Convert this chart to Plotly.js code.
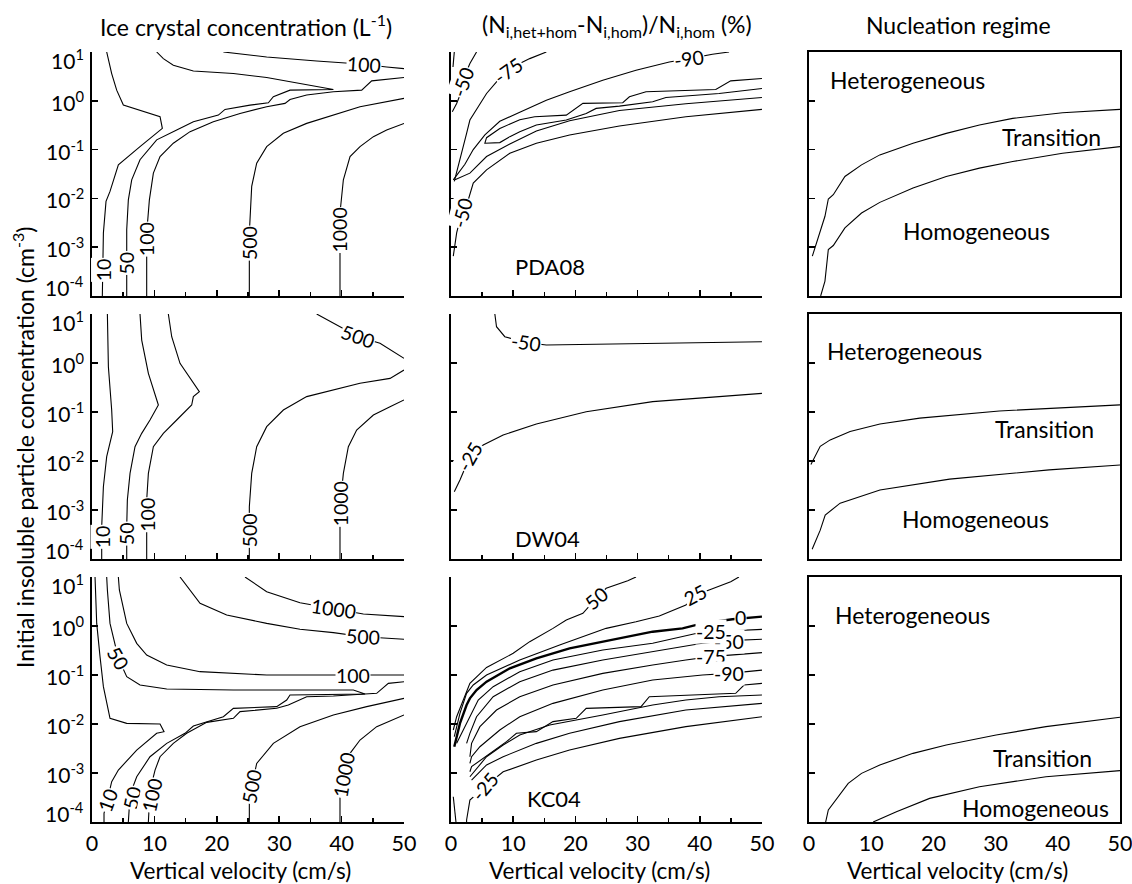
<!DOCTYPE html>
<html><head><meta charset="utf-8">
<script src="https://cdn.plot.ly/plotly-3.0.1.min.js"></script>
<style>html,body{margin:0;padding:0;background:#fff}#chart{width:1132px;height:884px}</style>
</head><body><div id="chart"></div>
<script>
// ---------------- data ----------------
const xTickVals = [0, 10, 20, 30, 40, 50];
const xMinorVals = [5, 15, 25, 35, 45];
const yTickVals = [1e-4, 1e-3, 1e-2, 1e-1, 1, 10];
const yTickText = ['10<sup>-4</sup>', '10<sup>-3</sup>', '10<sup>-2</sup>', '10<sup>-1</sup>', '10<sup>0</sup>', '10<sup>1</sup>'];
const columnTitles = ['Ice crystal concentration (L<sup>-1</sup>)',
  '(N<sub>i,het+hom</sub>-N<sub>i,hom</sub>)/N<sub>i,hom</sub> (%)',
  'Nucleation regime'];
const xTitle = 'Vertical velocity (cm/s)';
const yTitle = 'Initial insoluble particle concentration (cm<sup>-3</sup>)';
const schemeNames = ['PDA08', 'DW04', 'KC04'];
const schemeNameX = [10, 10, 11.9];
const schemeNameY = [4.1e-4, 2.64e-4, 3.0e-4];

// ---- panel 1: ice crystal conc., PDA08 ----
const p1_c10_x = [2.35,3.15,3.95,5.02,10.9,11.27,7.69,4.22,2.88,2.24,1.82,1.71,1.65];
const p1_c10_y = [10,3.61,1.65,0.817,0.471,0.272,0.115,0.0486,0.0139,0.00869,0.00196,5.6e-4,1e-4];
const p1_c50_x = [5.56,5.56,5.82,6.36,7.69,10.36,13.57,16.24,20.25,21.31,25.32,28.26,29.06,31.73,38.68,33.33,27.99,22.65,16.24,13.03,11.43,10.36];
const p1_c50_y = [1e-4,0.0023,0.0093,0.024,0.062,0.158,0.252,0.372,0.509,0.665,0.816,0.91,1.21,1.65,1.70,2.26,2.99,3.61,4.09,5.35,7.31,10];
const p1_c100a_x = [8.76,8.76,9.19,9.83,10.9,13.03,15.71,19.44,23.72,27.99,30.93,31.73,34.4,38.68,43.22,44.82,50];
const p1_c100a_y = [1e-4,0.00195,0.0093,0.033,0.072,0.135,0.233,0.372,0.551,0.755,0.883,1.06,1.31,1.53,1.65,2.56,2.99];
const p1_c100b_x = [21.05,27.99,36.0,40.28,43.5,47.22,50];
const p1_c100b_y = [10,7.9,6.55,6.05,5.6,4.94,4.57];
const p1_c500_x = [25.21,25.21,25.59,26.39,27.99,30.66,34.4,38.68,42.95,50];
const p1_c500_y = [1e-4,0.00195,0.0176,0.0526,0.115,0.215,0.344,0.509,0.755,1.12];
const p1_c1000_x = [39.74,39.74,40.28,41.35,42.95,45.09,47.22,50];
const p1_c1000_y = [1e-4,0.005,0.024,0.072,0.115,0.184,0.252,0.344];
const p1_lab_text = ['10','50','100','500','1000','100'];
const p1_lab_x = [1.75,5.56,8.76,25.21,39.74,43.6];
const p1_lab_y = [3.5e-4,4.8e-4,1.44e-3,1.23e-3,2.3e-3,5.6];

// ---- panel 2: relative change, PDA08 ----
const p2_a_x = [4.11,3.04,2.24,1.55,0.91,0.21];
const p2_a_y = [10,5.78,3.34,1.41,0.883,0.597];
const p2_a2_x = [0.53,0.32];
const p2_a2_y = [10,4.94];
const p2_b_x = [15.33,12.66,11.06,9.19,7.32,5.72,4.38,3.04,2.51,1.71,0.91,0.53];
const p2_b_y = [10,7.31,5.78,4.23,2.44,1.41,0.755,0.403,0.215,0.0841,0.0329,0.0222];
const p2_c_x = [44.71,42.04,38.30,35.10,29.75,24.41,19.07,15.33,11.06,7.85,5.45,3.58,2.24,0.91,0.37];
const p2_c_y = [10,8.95,7.31,6.25,4.23,2.64,1.53,1.03,0.58,0.38,0.2,0.1,0.05,0.03,0.024];
const p2_d_x = [50,44.98,42.58,31.36,28.69,27.62,21.21,18.54,13.46,11.06,7.85,5.72,5.45,7.85,9.46,11.06,13.73,18.54,21.74,23.34,27.08,32.43,34.56,43.11,50];
const p2_d_y = [2.86,2.56,1.70,1.53,1.21,0.91,0.883,0.509,0.471,0.41,0.27,0.175,0.135,0.139,0.184,0.233,0.318,0.403,0.551,0.698,0.778,0.955,1.17,1.41,1.79];
const p2_e_x = [0.64,3.04,5.72,9.46,13.73,19.07,27.08,37.77,50];
const p2_e_y = [0.024,0.0329,0.0719,0.13,0.24,0.39,0.63,0.87,1.17];
const p2_f_x = [50,37.77,27.08,19.07,13.73,9.46,5.72,3.58,2.78,1.71,0.91,0.37];
const p2_f_y = [0.665,0.471,0.304,0.199,0.135,0.0841,0.0385,0.0206,0.0094,0.005,0.00196,0.000655];
const p2_lab_text = ['-50','-75','-90','-50'];
const p2_lab_x = [1.98,9.19,38.3,1.71];
const p2_lab_y = [2.44,4.23,7.31,0.005];

// ---- panel 3: regime, PDA08 ----
const p3_up_x = [0.53,2.56,3.10,3.9,5.77,8.44,11.38,16.72,22.06,27.4,32.75,40.76,50];
const p3_up_y = [6.55e-4,0.0043,0.0097,0.0119,0.0281,0.0486,0.0778,0.135,0.215,0.318,0.436,0.569,0.665];
const p3_lo_x = [1.87,2.56,3.10,3.9,5.77,8.44,11.38,16.72,22.06,27.4,32.75,40.76,50];
const p3_lo_y = [1e-4,2.02e-4,8.95e-4,0.00108,0.00248,0.005,0.00828,0.01626,0.0281,0.0416,0.0569,0.0841,0.115];
const p3_txt_x = [3.1, 47.2, 14.85];
const p3_txt_y = [2.64, 0.184, 0.00214];

// ---- panel 4: ice crystal conc., DW04 ----
const p4_c10_x = [2.46,2.62,3.15,3.31,2.35,1.82,1.55,1.55];
const p4_c10_y = [10,0.841,0.110,0.0397,0.01226,0.00299,4.57e-4,1e-4];
const p4_c50_x = [7.69,7.96,9.03,9.83,10.63,9.29,7.96,6.89,6.09,5.66,5.56,5.56];
const p4_c50_y = [10,2.94,0.615,0.281,0.139,0.0687,0.0367,0.0196,0.0056,0.0016,4.57e-4,1e-4];
const p4_c100_x = [12.23,12.77,14.1,15.97,17.2,16.24,15.97,13.57,11.43,9.83,9.03,8.76,8.76];
const p4_c100_y = [10,3.44,0.984,0.45,0.26,0.206,0.139,0.0687,0.0367,0.0196,0.0056,0.0016,1e-4];
const p4_c500a_x = [25.21,25.21,25.59,26.39,27.99,30.66,34.4,38.68,42.95,47.76,50];
const p4_c500a_y = [1e-4,0.00117,0.0056,0.0196,0.0502,0.110,0.206,0.281,0.385,0.486,0.719];
const p4_c1000_x = [39.74,39.74,40.28,41.08,42.41,45.09,47.76,50];
const p4_c1000_y = [1e-4,0.00117,0.0056,0.0196,0.043,0.0869,0.1285,0.176];
const p4_c500b_x = [36.0,38.68,42.68,46.15,50];
const p4_c500b_y = [10,6.46,3.44,2.52,1.245];
const p4_lab_text = ['10','50','100','500','1000','500'];
const p4_lab_x = [1.7,5.56,8.76,25.21,39.74,42.68];
const p4_lab_y = [2.86e-4,3.34e-4,7.9e-4,3.91e-4,1.37e-3,3.44];

// ---- panel 5: relative change, DW04 ----
const p5_a_x = [7.05,7.32,8.65,12.13,15.33,27.08,37.77,50];
const p5_a_y = [10,5.5,3.44,2.6,2.33,2.44,2.6,2.72];
const p5_b_x = [0.53,1.44,3.04,5.18,8.39,13.73,21.74,32.43,43.11,50];
const p5_b_y = [0.00237,0.00409,0.01226,0.0212,0.034,0.0569,0.1016,0.1626,0.206,0.240];
const p5_lab_text = ['-50','-25'];
const p5_lab_x = [12.13,3.04];
const p5_lab_y = [2.6,0.01226];

// ---- panel 6: regime, DW04 ----
const p6_up_x = [0.3,1.8,3.4,6.6,11.4,17.8,30.6,50];
const p6_up_y = [0.0085,0.02,0.027,0.04,0.057,0.075,0.105,0.14];
const p6_lo_x = [0.5,1.8,2.6,5.0,11.4,22.6,38.6,50];
const p6_lo_y = [1.58e-4,3.89e-4,7.9e-4,0.00138,0.00257,0.00427,0.0066,0.0083];
const p6_txt_x = [2.6, 46.2, 14.6];
const p6_txt_y = [1.76, 0.045, 6.6e-4];

// ---- panel 7: ice crystal conc., KC04 ----
const p7_c10_x = [0.48,0.75,1.28,1.82,2.88,5.56,10.9,11.54,10.36,7.16,4.22,3.15,2.46,1.92,1.92];
const p7_c10_y = [10,1.13,0.237,0.0578,0.0131,0.0103,0.01,0.00698,0.00646,0.00294,0.00115,6.65e-4,2.81e-4,1.5e-4,1e-4];
const p7_c50_x = [2.35,2.46,2.88,4.22,5.56,7.69,11.97,22.65,33.33,41.88,43.76,31.73,31.2,29.59,22.65,21.05,16.24,14.9,11.97,9.29,7.16,6.36,5.98,5.82];
const p7_c50_y = [10,5.43,1.13,0.219,0.0925,0.0625,0.0518,0.0494,0.0494,0.0494,0.041,0.0391,0.0309,0.0226,0.0209,0.0141,0.0091,0.00646,0.00403,0.00215,8.4e-4,4.5e-4,2.06e-4,1e-4];
const p7_c100a_x = [9.03,9.29,10.1,10.9,13.03,15.17,18.38,22.65,23.72,29.59,31.46,34.4,38.68,44.02,45.62,47.49,50];
const p7_c100a_y = [1e-4,4.43e-4,0.00115,0.00215,0.00403,0.00646,0.0108,0.0131,0.0179,0.0209,0.0244,0.0361,0.0372,0.041,0.0423,0.0676,0.0731];
const p7_c100b_x = [4.22,4.38,5.56,7.16,8.76,11.97,17.31,27.99,38.68,50];
const p7_c100b_y = [10,5.43,1.13,0.443,0.256,0.16,0.117,0.1,0.1,0.1];
const p7_c500a_x = [14.1,15.71,17.31,21.58,27.99,33.33,38.68,43.48,47.22,50];
const p7_c500a_y = [10,5.43,2.9,1.68,1.13,0.855,0.731,0.605,0.56,0.535];
const p7_c1000a_x = [24.52,27.99,33.33,38.68,43.48,50];
const p7_c1000a_y = [10,5.02,2.99,2.3,1.76,1.55];
const p7_c500b_x = [25.21,25.21,25.59,26.39,29.06,33.33,38.68,44.02,50];
const p7_c500b_y = [1e-4,2.4e-4,5.26e-4,0.00157,0.00403,0.00883,0.0153,0.0226,0.0334];
const p7_c1000b_x = [39.74,39.74,40.28,41.35,42.95,45.62,50];
const p7_c1000b_y = [1e-4,3.29e-4,9.1e-4,0.00252,0.00471,0.00883,0.0153];
const p7_lab_text = ['1000','500','100','50','10','50','100','500','1000'];
const p7_lab_x = [38.68,43.48,41.88,4.22,2.46,6.4,9.56,25.59,40.28];
const p7_lab_y = [2.3,0.605,0.1,0.219,2.81e-4,3.2e-4,3.5e-4,5.26e-4,9.1e-4];

// ---- panel 8: relative change, KC04 ----
const p8_c50_x = [29.75,28.42,24.95,23.34,21.21,18.54,16.4,12.66,10.0,7.32,5.72,3.04,1.98,0.91,0.37];
const p8_c50_y = [10,8.41,5.88,3.67,1.82,1.33,0.895,0.479,0.277,0.187,0.143,0.0676,0.0309,0.0141,0.00755];
const p8_c25_x = [46.3,44.98,41.5,39.37,37.77,33.49,29.75,24.95,17.47,11.06,5.72,3.58,2.51,1.44,0.53];
const p8_c25_y = [10,8.03,5.43,4.3,2.69,1.6,1.22,0.895,0.409,0.202,0.1,0.0625,0.0423,0.0165,0.0055];
const p8_c0_x = [50,48.45,45.25,40.44,37.23,32.43,27.08,24.95,19.07,13.73,9.46,5.72,4.11,3.04,2.51,1.44,0.53];
const p8_c0_y = [1.55,1.5,1.37,1.13,0.895,0.765,0.56,0.479,0.35,0.219,0.137,0.0731,0.0494,0.0334,0.0244,0.0103,0.00344];
const p8_cm25_x = [50,45,41.77,39.37,32.43,24.41,16.4,11.06,6.78,4.38,3.04,1.98,0.91];
const p8_cm25_y = [0.855,0.80,0.765,0.70,0.443,0.324,0.202,0.117,0.0578,0.0309,0.0141,0.00755,0.00403];
const p8_cm50_x = [50,44.71,40.44,32.43,24.41,16.4,11.06,6.78,4.11,3.04,2.51];
const p8_cm50_y = [0.535,0.502,0.443,0.299,0.202,0.126,0.0731,0.0361,0.0141,0.00646,0.00403];
const p8_cm75_x = [50,41.77,37.77,32.43,24.41,16.4,11.06,7.32,4.65,3.31,3.04];
const p8_cm75_y = [0.286,0.237,0.202,0.16,0.108,0.0625,0.0361,0.0193,0.00883,0.00403,0.00215];
const p8_cm90_x = [50,44.71,40.44,32.43,24.41,16.4,11.06,7.85,4.65,3.31,3.04];
const p8_cm90_y = [0.126,0.108,0.1,0.079,0.0494,0.0264,0.0141,0.00755,0.00344,0.00215,0.00157];
const p8_n1_x = [50,47.12,45.78,31.89,30.56,21.74,20.14,16.4,13.73,10.52,8.92,6.25,3.31,3.04];
const p8_n1_y = [0.0676,0.0625,0.0423,0.0361,0.0226,0.0209,0.0131,0.0112,0.00698,0.00646,0.00436,0.00252,0.00135,0.00106];
const p8_n2_x = [50,43.11,37.77,32.43,24.41,19.07,15.87,11.06,8.39,5.72,3.04];
const p8_n2_y = [0.0391,0.0361,0.0309,0.0244,0.0153,0.0112,0.00955,0.00597,0.00372,0.00215,8.4e-4];
const p8_n3_x = [50,37.77,27.08,19.07,13.73,8.39,5.72,3.31];
const p8_n3_y = [0.0264,0.0193,0.0112,0.00646,0.00403,0.00215,0.00146,7.2e-4];
const p8_n4_x = [50,37.77,27.08,19.07,13.73,8.39,5.45,3.04,2.51,2.51];
const p8_n4_y = [0.0141,0.00883,0.00509,0.00294,0.00184,0.00106,5.26e-4,2.81e-4,1.1e-4,1e-4];
const p8_s1_x = [0.37,0.8];
const p8_s1_y = [3.29e-4,1e-4];
const p8_lab_text = ['50','25','0','-50','-25','-75','-90','-25'];
const p8_lab_x = [23.34,39.37,46.58,44.71,41.77,41.77,44.71,5.45];
const p8_lab_y = [3.67,4.3,1.48,0.49,0.775,0.237,0.108,5.26e-4];

// ---- panel 9: regime, KC04 ----
const p9_up_x = [2.67,3.1,6.3,8.44,11.38,16.72,22.06,30.08,38.09,50];
const p9_up_y = [1e-4,1.76e-4,6.15e-4,9.84e-4,0.00146,0.00252,0.00372,0.00597,0.00883,0.0137];
const p9_lo_x = [10.31,14.05,19.39,27.4,38.09,50];
const p9_lo_y = [1e-4,1.63e-4,3.04e-4,5.26e-4,8.4e-4,0.00112];
const p9_txt_x = [3.9, 45.8, 48.5];
const p9_txt_y = [1.68, 0.002, 1.9e-4];
const regimeNames = ['Heterogeneous', 'Transition', 'Homogeneous'];

// ---------------- styling / layout ----------------
const FONT = 'Lato, "Noto Sans", sans-serif';
const xDomains = [[0.0813, 0.3569], [0.3984, 0.6731], [0.7147, 0.9894]];
const yDomains = [[0.6652, 0.9412], [0.3676, 0.6448], [0.0701, 0.3473]];
const yLabelShift = [10, 0, 0, 0, 0, -7];   // px nudge of the end labels, as in the reference
const labelAngles = {
  1: [-90, -90, -90, -90, -90, 4],
  2: [-70, -35, -8, -75],
  4: [-90, -90, -90, -90, -90, 20],
  5: [8, -60],
  7: [8, 3, 0, 60, -70, -78, -78, -80, -80],
  8: [-40, -28, 0, 0, 0, 0, 0, -50]
};

const traces = [];
function addLine(n, xs, ys, w) {
  traces.push({
    x: xs, y: ys, xaxis: 'x' + n, yaxis: 'y' + n, type: 'scatter', mode: 'lines',
    line: { color: '#000', width: w || 1.1 }, hoverinfo: 'skip', showlegend: false
  });
}
addLine(1, p1_c10_x, p1_c10_y); addLine(1, p1_c50_x, p1_c50_y);
addLine(1, p1_c100a_x, p1_c100a_y); addLine(1, p1_c100b_x, p1_c100b_y);
addLine(1, p1_c500_x, p1_c500_y); addLine(1, p1_c1000_x, p1_c1000_y);
addLine(2, p2_a_x, p2_a_y); addLine(2, p2_a2_x, p2_a2_y); addLine(2, p2_b_x, p2_b_y);
addLine(2, p2_c_x, p2_c_y); addLine(2, p2_d_x, p2_d_y); addLine(2, p2_e_x, p2_e_y);
addLine(2, p2_f_x, p2_f_y);
addLine(3, p3_up_x, p3_up_y); addLine(3, p3_lo_x, p3_lo_y);
addLine(4, p4_c10_x, p4_c10_y); addLine(4, p4_c50_x, p4_c50_y); addLine(4, p4_c100_x, p4_c100_y);
addLine(4, p4_c500a_x, p4_c500a_y); addLine(4, p4_c1000_x, p4_c1000_y); addLine(4, p4_c500b_x, p4_c500b_y);
addLine(5, p5_a_x, p5_a_y); addLine(5, p5_b_x, p5_b_y);
addLine(6, p6_up_x, p6_up_y); addLine(6, p6_lo_x, p6_lo_y);
addLine(7, p7_c10_x, p7_c10_y); addLine(7, p7_c50_x, p7_c50_y);
addLine(7, p7_c100a_x, p7_c100a_y); addLine(7, p7_c100b_x, p7_c100b_y);
addLine(7, p7_c500a_x, p7_c500a_y); addLine(7, p7_c1000a_x, p7_c1000a_y);
addLine(7, p7_c500b_x, p7_c500b_y); addLine(7, p7_c1000b_x, p7_c1000b_y);
addLine(8, p8_c50_x, p8_c50_y); addLine(8, p8_c25_x, p8_c25_y); addLine(8, p8_c0_x, p8_c0_y, 2.4);
addLine(8, p8_cm25_x, p8_cm25_y); addLine(8, p8_cm50_x, p8_cm50_y); addLine(8, p8_cm75_x, p8_cm75_y);
addLine(8, p8_cm90_x, p8_cm90_y); addLine(8, p8_n1_x, p8_n1_y); addLine(8, p8_n2_x, p8_n2_y);
addLine(8, p8_n3_x, p8_n3_y); addLine(8, p8_n4_x, p8_n4_y); addLine(8, p8_s1_x, p8_s1_y);
addLine(9, p9_up_x, p9_up_y); addLine(9, p9_lo_x, p9_lo_y);

const layout = {
  width: 1132, height: 884, margin: { l: 0, r: 0, t: 0, b: 0 },
  paper_bgcolor: '#fff', plot_bgcolor: 'rgba(0,0,0,0)', showlegend: false,
  font: { family: FONT, color: '#000', size: 20 },
  annotations: []
};
for (let n = 1; n <= 9; n++) {
  const r = Math.floor((n - 1) / 3), c = (n - 1) % 3;
  const xa = {
    domain: xDomains[c], anchor: 'y' + n, range: [0, 50], showgrid: false, zeroline: false,
    showline: true, linecolor: '#000', linewidth: 2, mirror: c === 2,
    tickvals: xTickVals, ticks: c < 2 ? 'inside' : '', ticklen: 6, tickwidth: 1.5, tickcolor: '#000',
    showticklabels: r === 2, tickfont: { family: FONT, size: 21.5, color: '#000' },
    ticklabelstandoff: 1, ticklabeloverflow: 'allow', fixedrange: true
  };
  if (c < 2) xa.minor = { tickvals: xMinorVals, ticks: 'inside', ticklen: 4, tickwidth: 1.5, tickcolor: '#000', showgrid: false };
  const ya = {
    domain: yDomains[r], anchor: 'x' + n, type: 'log', range: [-4, 1], showgrid: false, zeroline: false,
    showline: true, linecolor: '#000', linewidth: 2, mirror: c === 2,
    tickvals: yTickVals, ticks: 'inside', ticklen: 6, tickwidth: 1.5, tickcolor: '#000',
    showticklabels: false, fixedrange: true
  };
  layout['xaxis' + (n === 1 ? '' : n)] = xa;
  layout['yaxis' + (n === 1 ? '' : n)] = ya;
}

// y tick labels of the left column, placed through each y axis' own scale
[1, 4, 7].forEach(n => {
  yTickVals.forEach((v, i) => {
    layout.annotations.push({ xref: 'paper', yref: 'y' + n, x: 86 / 1132, y: Math.log10(v), text: yTickText[i],
      showarrow: false, xanchor: 'right', yanchor: 'middle', yshift: yLabelShift[i],
      font: { family: FONT, size: 21, color: '#000' } });
  });
});

function addLabels(n, texts, xs, ys) {
  texts.forEach((t, i) => {
    layout.annotations.push({
      xref: 'x' + n, yref: 'y' + n, x: xs[i], y: Math.log10(ys[i]), text: t,
      textangle: labelAngles[n][i], showarrow: false, bgcolor: '#fff', borderpad: 0,
      font: { family: FONT, size: 19.5, color: '#000' }, xanchor: 'center', yanchor: 'middle'
    });
  });
}
addLabels(1, p1_lab_text, p1_lab_x, p1_lab_y);
addLabels(2, p2_lab_text, p2_lab_x, p2_lab_y);
addLabels(4, p4_lab_text, p4_lab_x, p4_lab_y);
addLabels(5, p5_lab_text, p5_lab_x, p5_lab_y);
addLabels(7, p7_lab_text, p7_lab_x, p7_lab_y);
addLabels(8, p8_lab_text, p8_lab_x, p8_lab_y);

// scheme names in middle column
[2, 5, 8].forEach((n, i) => {
  layout.annotations.push({ xref: 'x' + n, yref: 'y' + n, x: schemeNameX[i], y: Math.log10(schemeNameY[i]),
    text: schemeNames[i], showarrow: false, xanchor: 'left', yanchor: 'middle',
    font: { family: FONT, size: 22, color: '#000' } });
});
// regime names in right column
const regimeX = [p3_txt_x, p6_txt_x, p9_txt_x], regimeY = [p3_txt_y, p6_txt_y, p9_txt_y];
const regimeAnchor = [['left', 'right', 'left'], ['left', 'right', 'left'], ['left', 'right', 'right']];
[3, 6, 9].forEach((n, i) => {
  regimeNames.forEach((t, k) => {
    layout.annotations.push({ xref: 'x' + n, yref: 'y' + n, x: regimeX[i][k], y: Math.log10(regimeY[i][k]),
      text: t, showarrow: false, xanchor: regimeAnchor[i][k], yanchor: 'middle',
      font: { family: FONT, size: 23, color: '#000' } });
  });
});
// column titles
const colCenters = [246 / 1132, 617 / 1132, 958 / 1132];
columnTitles.forEach((t, i) => {
  layout.annotations.push({ xref: 'paper', yref: 'paper', x: colCenters[i], y: 1 - 25 / 884, text: t,
    showarrow: false, xanchor: 'center', yanchor: 'middle', font: { family: FONT, size: 23, color: '#000' } });
});
// x titles
const xTitleCenters = [240 / 1132, 599 / 1132, 957 / 1132];
xTitleCenters.forEach(cx => {
  layout.annotations.push({ xref: 'paper', yref: 'paper', x: cx, y: 1 - 870 / 884, text: xTitle,
    showarrow: false, xanchor: 'center', yanchor: 'middle', font: { family: FONT, size: 22.5, color: '#000' } });
});
// y title
layout.annotations.push({ xref: 'paper', yref: 'paper', x: 23 / 1132, y: 1 - 447 / 884, text: yTitle, textangle: -90,
  showarrow: false, xanchor: 'center', yanchor: 'middle', font: { family: FONT, size: 23, color: '#000' } });

Plotly.newPlot('chart', traces, layout, { staticPlot: true, displayModeBar: false });
</script></body></html>
